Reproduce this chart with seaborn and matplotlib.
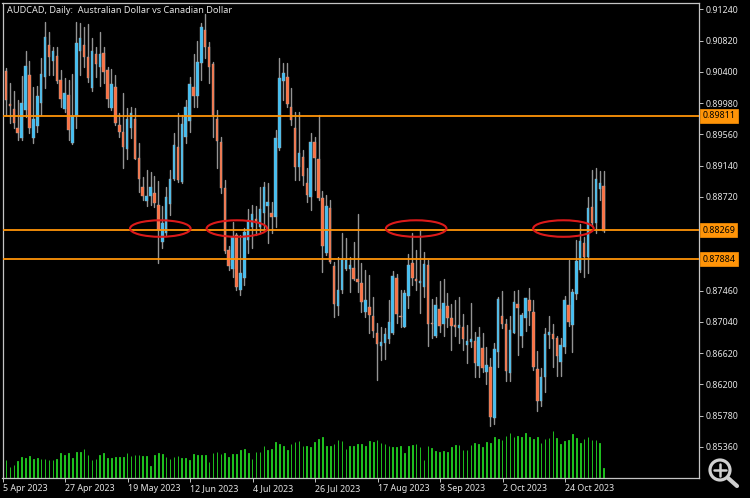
# -*- coding: utf-8 -*-
"""AUDCAD daily candles with support and resistance levels."""

import matplotlib
matplotlib.use("Agg")
import matplotlib.pyplot as plt
import pandas as pd
import seaborn as sns
from matplotlib.patches import Circle, Ellipse

opens = [
    .90413, .89965, .89898, .89642, .89508, .89889, .90359, .89508, .89674, .89978,
    .90337, .90762, .90547, .90619, .90292, .89898, .90090, .89441, .89808, .90686,
    .90762, .90596, .90180, .90641, .90462, .90659, .90426, .89920, .90202, .89687,
    .89593, .89364, .89642, .89768, .89239, .88858, .88670, .88733, .88769, .88612,
    .88119, .88231, .88621, .88961, .89396, .88925, .89521, .89745, .90202, .90081,
    .90516, .90964, .90740, .90502, .89768, .89463, .88836, .88007, .87747, .88209,
    .87469, .87635, .88141, .88312, .88419, .88320, .88500, .88598, .88500, .88455,
    .89373, .90283, .90328, .89933, .89642, .89118, .89261, .88912, .88724, .89463,
    .89226, .88701, .87971, .88567, .87796, .87254, .87469, .87747, .87747, .87769,
    .87613, .87568, .87178, .87245, .87124, .86887, .86721, .86752, .86806, .86887,
    .87626, .87124, .86977, .87393, .87828, .87613, .87559, .87514, .87805, .87022,
    .86856, .87214, .87012, .87254, .87089, .86995, .86963, .86977, .86730, .86775,
    .86788, .86452, .86685, .86372, .86430, .85745, .86640, .87124, .87008, .86358,
    .86896, .87281, .86856, .87098, .87335, .87174, .86403, .85982, .86305, .86869,
    .86873, .86824, .86502, .86708, .87268, .87004, .87411, .87738, .88097, .87917,
    .88580, .88365, .88823, .88867,
]
closes = [
    .90023, .89942, .89718, .89584, .89978, .90484, .89651, .89763, .90077, .90372,
    .90865, .90605, .90682, .90283, .90036, .90113, .89620, .89808, .90794, .90852,
    .90605, .90323, .90686, .90507, .90641, .90404, .90032, .90234, .89709, .89597,
    .89387, .89763, .89844, .89226, .88957, .88733, .88737, .88858, .88634, .88276,
    .88365, .88724, .88961, .89418, .88948, .89700, .89933, .90234, .90081, .90538,
    .91000, .90740, .90471, .89821, .89472, .88836, .87998, .87796, .88186, .87514,
    .87693, .88253, .88410, .88491, .88365, .88558, .88849, .88657, .88446, .89517,
    .90314, .90381, .89969, .89754, .89127, .89306, .89006, .88746, .89463, .89248,
    .88701, .88061, .88598, .87850, .87281, .87469, .87882, .87873, .87805, .87617,
    .87581, .87313, .87335, .87133, .86918, .86744, .86766, .86873, .87035, .87662,
    .87147, .87111, .87425, .87805, .87626, .87590, .87595, .87819, .87012, .87008,
    .87268, .86990, .87290, .87098, .86990, .86977, .86995, .86806, .86784, .86806,
    .86493, .86838, .86425, .86461, .85758, .86676, .87349, .87012, .86385, .86927,
    .87304, .87223, .87133, .87367, .87187, .86439, .85982, .86305, .86873, .86900,
    .86815, .86582, .86730, .87335, .87044, .87438, .87859, .88132, .87917, .88567,
    .88374, .88961, .88903, .88262,
]
highs = [
    .90449, .90247, .90148, .90023, .90346, .90686, .90552, .90202, .90211, .90583,
    .91076, .90941, .90740, .90740, .90426, .90314, .90292, .90372, .91076, .91062,
    .91009, .91044, .90852, .90740, .90941, .90740, .90471, .90435, .90359, .89844,
    .90113, .89911, .89924, .89911, .89441, .88993, .89082, .89060, .89002, .88939,
    .88598, .88858, .89082, .89575, .89844, .89821, .90023, .90328, .90641, .90820,
    .91062, .91179, .90807, .90538, .89889, .89530, .88948, .88061, .88388, .88231,
    .88209, .88298, .88554, .88612, .88598, .88858, .88925, .88903, .88657, .89620,
    .90583, .90516, .90516, .90180, .89866, .89866, .89351, .89105, .89575, .89530,
    .89821, .88805, .88746, .88679, .87850, .87917, .88231, .88164, .87917, .88119,
    .88491, .87828, .87738, .87671, .87371, .87022, .86977, .86954, .87335, .87729,
    .87684, .87469, .87469, .87949, .88231, .88000, .88276, .87985, .87873, .87348,
    .87371, .87590, .87613, .87425, .87281, .87335, .87380, .87142, .86999, .87299,
    .86910, .86977, .86887, .86708, .86551, .86762, .87380, .87456, .87075, .87124,
    .87456, .87469, .87156, .87367, .87492, .87335, .86654, .86416, .86954, .87124,
    .87008, .86851, .86829, .87393, .87873, .87478, .88141, .88356, .88186, .88715,
    .89082, .89105, .89073, .89069,
]
lows = [
    .89821, .89709, .89642, .89485, .89485, .89799, .89575, .89441, .89597, .89821,
    .90180, .90359, .90359, .90247, .89933, .89866, .89485, .89427, .89642, .90359,
    .90471, .90269, .90148, .90337, .90211, .90247, .89933, .89889, .89687, .89530,
    .89105, .89226, .89508, .89226, .88791, .88679, .88598, .88612, .88589, .87828,
    .88029, .88209, .88477, .88948, .88925, .88912, .89441, .89597, .89933, .89933,
    .90292, .90583, .90247, .89530, .89105, .88769, .87962, .87738, .87649, .87469,
    .87402, .87537, .87962, .88029, .88209, .88231, .88276, .88097, .88231, .88320,
    .89351, .90023, .89933, .89687, .88948, .88948, .88881, .88657, .88545, .88813,
    .88679, .87716, .87940, .87828, .87111, .87133, .87425, .87738, .87447, .87604,
    .87447, .87178, .87111, .86887, .86843, .86260, .86529, .86538, .86752, .86873,
    .87022, .86977, .86977, .87223, .87537, .87469, .87156, .87380, .86721, .86820,
    .86842, .86910, .86851, .86977, .86663, .86851, .86752, .86663, .86484, .86708,
    .86305, .86305, .86372, .86202, .85646, .85664, .86439, .86954, .86251, .86251,
    .86887, .86596, .86699, .86923, .86999, .86394, .85848, .85910, .86103, .86686,
    .86439, .86318, .86318, .86618, .86990, .86640, .87344, .87716, .87649, .87702,
    .88329, .88231, .88679, .88253,
]
volumes = [
    52, 32, 37, 49, 61, 59, 64, 55, 58, 55, 55, 52, 52, 55, 73, 67, 73, 59, 78, 76,
    87, 67, 52, 55, 67, 73, 59, 58, 61, 61, 61, 73, 64, 67, 69, 66, 64, 35, 67, 73,
    70, 61, 55, 61, 64, 58, 58, 52, 70, 67, 67, 67, 46, 73, 78, 70, 75, 61, 70, 70,
    82, 87, 73, 55, 78, 78, 96, 84, 87, 108, 102, 96, 82, 102, 108, 111, 96, 96, 93, 108,
    116, 122, 94, 94, 100, 114, 111, 87, 96, 94, 102, 100, 94, 110, 107, 114, 104, 102, 96, 91,
    93, 96, 73, 96, 99, 100, 93, 52, 94, 90, 81, 76, 81, 76, 91, 99, 99, 82, 84, 99,
    105, 102, 91, 108, 105, 122, 117, 112, 125, 133, 122, 125, 122, 134, 122, 117, 122, 105, 117, 119,
    140, 119, 102, 111, 114, 131, 119, 105, 117, 122, 114, 114, 105, 28,
]
date_labels = [
    "5 Apr 2023", "27 Apr 2023", "19 May 2023", "12 Jun 2023", "4 Jul 2023",
    "26 Jul 2023", "17 Aug 2023", "8 Sep 2023", "2 Oct 2023", "24 Oct 2023",
]
price_ticks = [
    0.91240, 0.90820, 0.90400, 0.89980, 0.89560, 0.89140, 0.88720,
    0.87460, 0.87040, 0.86620, 0.86200, 0.85780, 0.85360,
]
levels = [0.89811, 0.88269, 0.87884]
# Circled touches of the middle level: bar at the centre of each ellipse
touch_bars = [39.5, 59.1, 105.0, 142.7]

BLUE = "#3fc0f6"
ORANGE = "#ff7040"
LEVEL = "#ff9408"
WICK = "#949494"
VOLUME = "#1fc01f"
TEXT = "#e4e4e4"
FRAME = "#c4c4c4"

sns.set_theme(style="dark", rc={"axes.facecolor": "black", "figure.facecolor": "black"})
plt.rcParams["font.family"] = ["Noto Sans", "DejaVu Sans"]

# Read and prepare the data
data = pd.DataFrame({"open": opens, "high": highs, "low": lows, "close": closes, "volume": volumes})
data["bar"] = data.index
data["bottom"] = data[["open", "close"]].min(axis=1)
data["body"] = (data["close"] - data["open"]).abs()
up = data[data["close"] > data["open"]]
down = data[data["close"] <= data["open"]]
wicks = data.melt(id_vars="bar", value_vars=["low", "high"], value_name="price")

fig = plt.figure(figsize=(7.5, 4.98), dpi=100)
ax = fig.add_axes([2.5 / 750, 1 - 477.5 / 498, 696.5 / 750, 475 / 498])
vol_ax = ax.twinx()
ax.set_zorder(1)
vol_ax.set_zorder(0)
ax.patch.set_visible(False)

# Volumes at the foot of the chart
sns.barplot(data=data, x="bar", y="volume", native_scale=True, color=VOLUME,
            saturation=1, width=0.16, errorbar=None, edgecolor=VOLUME, linewidth=0.7, ax=vol_ax)
vol_ax.set_ylim(0, 1425)
vol_ax.axis("off")

# Candles
sns.lineplot(data=wicks, x="bar", y="price", units="bar", estimator=None, color=WICK,
             linewidth=1.0, ax=ax, zorder=2)
for part, color in ((up, BLUE), (down, ORANGE)):
    sns.barplot(data=part, x="bar", y="body", bottom=part["bottom"].values, native_scale=True,
                color=color, saturation=1, width=0.64, errorbar=None, edgecolor="#a8a8a8",
                linewidth=0.3, ax=ax, zorder=3)

# Levels and their price tags
for level in levels:
    ax.axhline(level, color=LEVEL, linewidth=1.3, zorder=4)
    ax.text(1.0045, level, f"{level:.5f}", transform=ax.get_yaxis_transform(), color="black",
            fontsize=6.4, ha="left", va="center", zorder=6,
            bbox=dict(boxstyle="square,pad=0.28", fc=LEVEL, ec=LEVEL, lw=0.5))

# Red ellipses
for bar in touch_bars:
    ax.add_patch(Ellipse((bar, 0.88295), 15.5, 0.00222, fill=False, edgecolor="#dc1a1a",
                         linewidth=1.5, zorder=5))

# Axes
ax.set_xlim(-0.9, 177.4)
ax.set_ylim(0.84949, 0.91333)
ax.set_xlabel("")
ax.set_ylabel("")
ax.grid(False)
ax.yaxis.tick_right()
ax.set_yticks(price_ticks, [f"{p:.5f}" for p in price_ticks], color=TEXT, fontsize=6.4)
ax.set_xticks([16 * i - 0.85 for i in range(len(date_labels))], date_labels, color=TEXT,
              fontsize=6.4, ha="left")
ax.tick_params(axis="both", length=3, width=0.7, color=FRAME, pad=1.5, bottom=True, right=True,
               left=False, labelbottom=True, labelright=True, labelleft=False)
for spine in ax.spines.values():
    spine.set_color(FRAME)
    spine.set_linewidth(0.9)
    spine.set_visible(True)

ax.text(0.0065, 0.9835, "AUDCAD, Daily:  Australian Dollar vs Canadian Dollar", transform=ax.transAxes,
        color=TEXT, fontsize=6.6, ha="left", va="center", zorder=7)

# Magnifier badge in the corner, in pixel coordinates
badge = fig.add_axes([0, 0, 1, 1], zorder=8)
badge.set_xlim(0, 750)
badge.set_ylim(498, 0)
badge.axis("off")
badge.add_patch(Circle((720, 470), 10, fill=False, edgecolor="#d0d0d0", linewidth=2.3))
badge.plot([714, 726], [470, 470], color="#d0d0d0", linewidth=1.8)
badge.plot([720, 720], [464, 476], color="#d0d0d0", linewidth=1.8)
badge.plot([728, 737], [478, 486], color="#d0d0d0", linewidth=3, solid_capstyle="round")

fig.savefig("out.png", dpi=100, facecolor="black")
